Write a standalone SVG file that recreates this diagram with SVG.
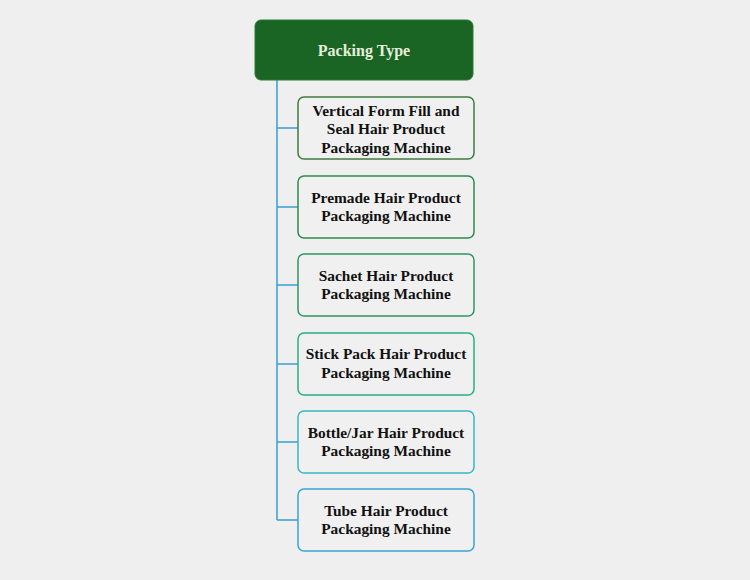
<svg xmlns="http://www.w3.org/2000/svg" width="750" height="580" viewBox="0 0 750 580">
<style>
.bg{fill:#efefef}
.box{fill:#f0f0f0;stroke-width:1.5}
.t{font-family:"Liberation Serif",serif;font-weight:bold;font-size:15.4px;fill:#111;text-anchor:middle}
.rt{font-family:"Liberation Serif",serif;font-weight:bold;font-size:16px;fill:#e6eedc;text-anchor:middle}
.c{stroke:#3a9fd8;stroke-width:1.5;fill:none}
</style>
<rect class="bg" width="750" height="580"/>
<g id="connectors">
<path class="c" d="M277 80 V520 M277 128 H298 M277 207 H298 M277 285 H298 M277 364 H298 M277 442 H298 M277 520 H298"/>
</g>
<g id="root">
<rect x="255" y="20" width="218" height="60" rx="6" fill="#1a6424" stroke="#2a7a34" stroke-width="1"/>
<text class="rt" x="364" y="56">Packing Type</text>
</g>
<g id="n1">
<rect class="box" x="298" y="97" width="176" height="62" rx="6" stroke="#3c7c40"/>
<text class="t" x="386" y="116">Vertical Form Fill and</text>
<text class="t" x="386" y="134">Seal Hair Product</text>
<text class="t" x="386" y="153">Packaging Machine</text>
</g>
<g id="n2">
<rect class="box" x="298" y="176" width="176" height="62" rx="6" stroke="#2f8a4c"/>
<text class="t" x="386" y="203">Premade Hair Product</text>
<text class="t" x="386" y="221">Packaging Machine</text>
</g>
<g id="n3">
<rect class="box" x="298" y="254" width="176" height="62" rx="6" stroke="#2e9766"/>
<text class="t" x="386" y="281">Sachet Hair Product</text>
<text class="t" x="386" y="299">Packaging Machine</text>
</g>
<g id="n4">
<rect class="box" x="298" y="333" width="176" height="62" rx="6" stroke="#2cae88"/>
<text class="t" x="386" y="359">Stick Pack Hair Product</text>
<text class="t" x="386" y="378">Packaging Machine</text>
</g>
<g id="n5">
<rect class="box" x="298" y="411" width="176" height="62" rx="6" stroke="#38b8c4"/>
<text class="t" x="386" y="438">Bottle/Jar Hair Product</text>
<text class="t" x="386" y="456">Packaging Machine</text>
</g>
<g id="n6">
<rect class="box" x="298" y="489" width="176" height="62" rx="6" stroke="#3aa2d8"/>
<text class="t" x="386" y="516">Tube Hair Product</text>
<text class="t" x="386" y="534">Packaging Machine</text>
</g>
</svg>
